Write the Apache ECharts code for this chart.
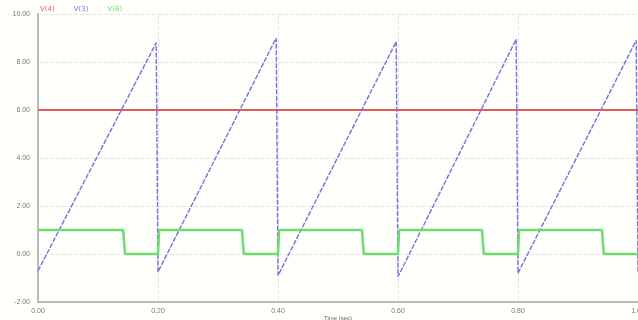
<!DOCTYPE html>
<html>
<head>
<meta charset="utf-8">
<script src="https://cdn.jsdelivr.net/npm/echarts@6/dist/echarts.min.js"></script>
<style>
  html, body { margin: 0; padding: 0; background: #fffffb; }
  #chart { width: 638px; height: 320px; }
</style>
</head>
<body>
<div id="chart"></div>
<script>
// reference level (flat)
const refTime = [0, 1.0]
const refVolt = [6.0, 6.0]

// sawtooth: ramp up, then drop at each 0.2 s
const sawTime = [0, 0.197, 0.2, 0.397, 0.4, 0.597, 0.6, 0.797, 0.8, 0.997, 1.0]
const sawVolt = [-0.7, 8.8, -0.75, 9.0, -0.9, 8.85, -0.95, 8.95, -0.8, 8.9, -0.8]

// comparator output (square wave)
const outTime = [0, 0.142, 0.145, 0.2, 0.202, 0.340, 0.343, 0.4, 0.402, 0.540, 0.543, 0.6, 0.602, 0.740, 0.743, 0.8, 0.802, 0.940, 0.943, 1.0]
const outVolt = [1.0, 1.0, 0.0, 0.0, 1.0, 1.0, 0.0, 0.0, 1.0, 1.0, 0.0, 0.0, 1.0, 1.0, 0.0, 0.0, 1.0, 1.0, 0.0, 0.0]

const seriesNames = ['V(4)', 'V(3)', 'V(6)']
const seriesColors = ['#e8585a', '#7470e2', '#6fdc6f']

const zip = (a, b) => a.map((v, i) => [v, b[i]])

const myChart = echarts.init(document.getElementById('chart'))
myChart.setOption({
  backgroundColor: '#fffffb',
  animation: false,
  color: seriesColors,
  legend: {
    left: 30,
    top: 1,
    itemWidth: 0,
    itemHeight: 0,
    itemGap: 14,
    data: seriesNames.map((n, i) => ({ name: n, icon: 'none', textStyle: { color: seriesColors[i] } })),
    textStyle: { fontSize: 7, fontFamily: 'DejaVu Sans' }
  },
  grid: { left: 38, right: 0, top: 14, bottom: 18, outerBoundsMode: 'none', containLabel: false },
  xAxis: {
    type: 'value',
    min: 0,
    max: 1,
    interval: 0.2,
    name: 'Time (sec)',
    nameLocation: 'middle',
    nameGap: 13,
    nameMoveOverlap: false,
    nameTextStyle: { fontSize: 6, color: '#666', verticalAlign: 'top' },
    axisLine: { onZero: false, lineStyle: { color: '#bbb', width: 2 } },
    axisTick: { show: false },
    axisLabel: {
      fontSize: 7, color: '#777', margin: 6,
      formatter: v => v.toFixed(2)
    },
    splitLine: { lineStyle: { color: '#e4e4dc', type: 'dashed' } }
  },
  yAxis: {
    type: 'value',
    min: -2,
    max: 10,
    interval: 2,
    axisLine: { show: true, lineStyle: { color: '#bbb', width: 2 } },
    axisTick: { show: false },
    axisLabel: {
      fontSize: 7, color: '#777', margin: 8,
      formatter: v => v.toFixed(2)
    },
    splitLine: { lineStyle: { color: '#e4e4dc', type: 'dashed' } }
  },
  series: [
    {
      name: seriesNames[0],
      type: 'line',
      showSymbol: false,
      lineStyle: { width: 2, color: seriesColors[0] },
      data: zip(refTime, refVolt)
    },
    {
      name: seriesNames[1],
      type: 'line',
      showSymbol: false,
      lineStyle: { width: 1.4, color: seriesColors[1], type: [5, 1.5] },
      data: zip(sawTime, sawVolt)
    },
    {
      name: seriesNames[2],
      type: 'line',
      showSymbol: false,
      lineStyle: { width: 2.5, color: seriesColors[2] },
      data: zip(outTime, outVolt)
    }
  ]
})
</script>
</body>
</html>
